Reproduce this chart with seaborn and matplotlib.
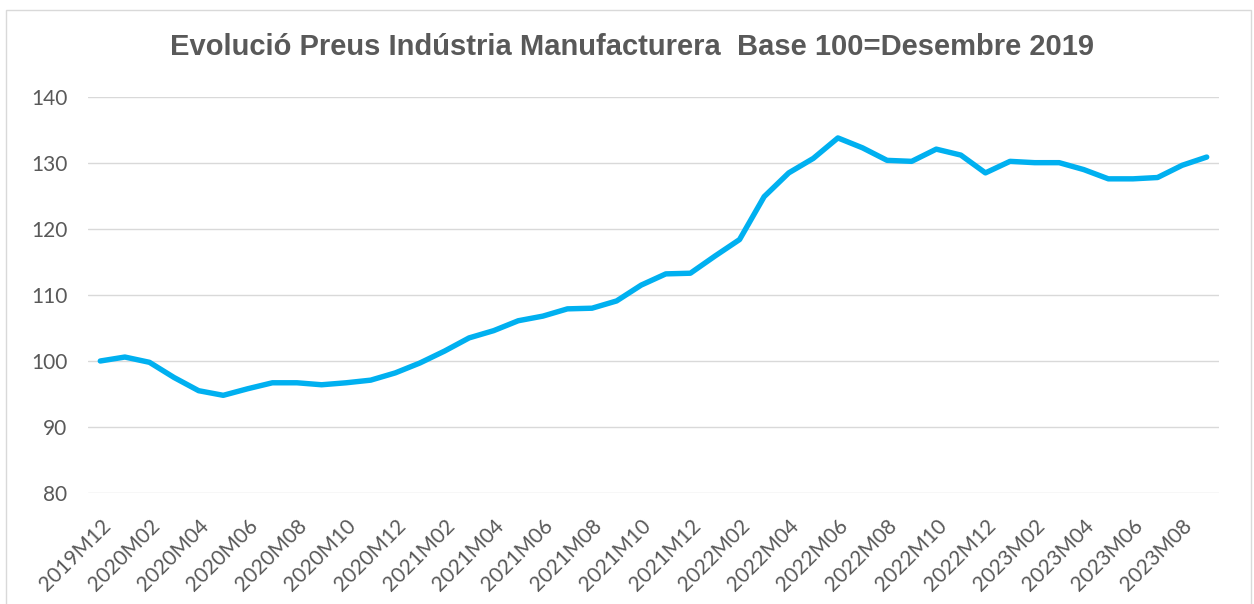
import matplotlib
matplotlib.use("Agg")
import matplotlib.pyplot as plt
from matplotlib.patches import Rectangle
import numpy as np
import pandas as pd
import seaborn as sns

# monthly periods, Dec 2019 -> Sep 2023
periods = ["2019M12"] + [f"{y}M{m:02d}" for y in (2020, 2021, 2022) for m in range(1, 13)] \
    + [f"2023M{m:02d}" for m in range(1, 10)]

# index values (base 100 = Dec 2019)
values_2019 = [100.0]
values_2020 = [100.6, 99.8, 97.5, 95.5, 94.8, 95.8, 96.7, 96.7, 96.4, 96.7, 97.1, 98.2]
values_2021 = [99.7, 101.5, 103.5, 104.6, 106.1, 106.8, 107.9, 108.0, 109.1, 111.5, 113.2, 113.3]
values_2022 = [115.9, 118.4, 124.9, 128.5, 130.7, 133.8, 132.3, 130.4, 130.25, 132.1, 131.2, 128.5]
values_2023 = [130.25, 130.05, 130.05, 129.0, 127.6, 127.6, 127.8, 129.65, 130.9]

yticks = [80, 90, 100, 110, 120, 130, 140]
title = "Evolució Preus Indústria Manufacturera  Base 100=Desembre 2019"

df = pd.DataFrame({
    "period": periods,
    "value": values_2019 + values_2020 + values_2021 + values_2022 + values_2023,
})
df["pos"] = np.arange(len(df))

sns.set_style("white")
plt.rcParams["font.family"] = ["Lato", "DejaVu Sans"]

text_col = "#595959"
fig = plt.figure(figsize=(12.54, 6.04), dpi=100)
ax = fig.add_axes([88 / 1254, 1 - 493 / 604, (1219 - 88) / 1254, (493 - 97) / 604])

# outer chart border
fig.patches.append(Rectangle((6 / 1254, -0.01), 1245 / 1254, 1 - 10 / 604 + 0.01,
                             transform=fig.transFigure, fill=False,
                             edgecolor="#D9D9D9", linewidth=1.0))

for yt in yticks:
    ax.axhline(yt, color="#D9D9D9", linewidth=1.0, zorder=0)

sns.lineplot(data=df, x="pos", y="value", ax=ax, color="#00B0F0", linewidth=3.9,
             solid_capstyle="round", solid_joinstyle="round")

ax.set_xlim(-0.5, len(df) - 0.5)
ax.set_ylim(80, 140)
ax.set_yticks(yticks)
ax.set_yticklabels([str(v) for v in yticks], fontsize=15, color=text_col)

ax.set_xticks(df["pos"][::2])
ax.set_xticklabels(df["period"][::2], rotation=45, ha="right", rotation_mode="anchor",
                   fontsize=15, color=text_col)
ax.tick_params(axis="y", length=0, pad=15)
ax.tick_params(axis="x", length=0, pad=16)
ax.set_xlabel("")
ax.set_ylabel("")
for s in ax.spines.values():
    s.set_visible(False)

fig.text(632 / 1254, 1 - 47 / 604, title, ha="center", va="center",
         fontsize=21, fontweight="bold", color=text_col,
         family=["Liberation Sans", "DejaVu Sans"])

fig.savefig("out.png", dpi=100)
